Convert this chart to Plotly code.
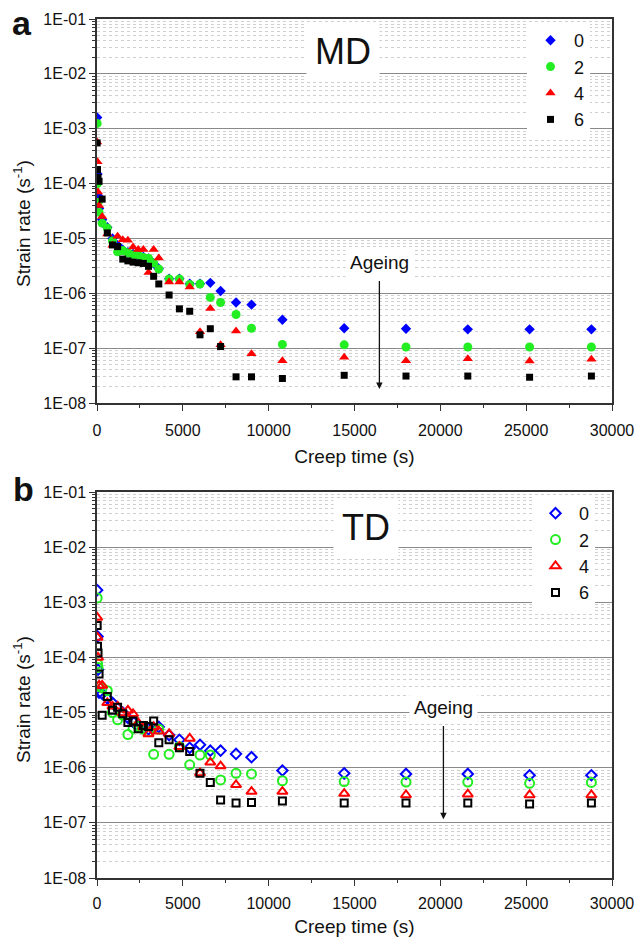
import plotly.graph_objects as go

# ---------------- data ----------------
times = [10, 30, 60, 120, 300, 600, 900, 1200, 1500, 1800, 2100, 2400, 2700, 3000,
         3300, 3600, 4200, 4800, 5400, 6000, 6600, 7200, 8100, 9000, 10800,
         14400, 18000, 21600, 25200, 28800]

series_names = ["0", "2", "4", "6"]
series_colors = ["#0000ff", "#22ee22", "#ff0000", "#000000"]

# MD (machine direction)
md_0 = [1.6e-3, 1.5e-4, 6e-5, 3.5e-5, 2.2e-5, 1.6e-5, 1.0e-5, 7.5e-6, 6.2e-6, 5.6e-6,
        5.2e-6, 5.0e-6, 4.6e-6, 4.3e-6, 3.5e-6, 2.8e-6, 1.85e-6, 1.85e-6, 1.5e-6, 1.5e-6,
        1.55e-6, 1.1e-6, 6.8e-7, 6.2e-7, 3.3e-7, 2.3e-7, 2.25e-7, 2.2e-7, 2.2e-7, 2.2e-7]
md_2 = [1.25e-3, 1.0e-4, 4.5e-5, 3.0e-5, 1.9e-5, 1.55e-5, 9e-6, 5.7e-6, 6.0e-6, 5.5e-6,
        5.0e-6, 5.0e-6, 4.5e-6, 4.35e-6, 3.55e-6, 2.77e-6, 1.82e-6, 1.82e-6, 1.45e-6, 1.48e-6,
        8.4e-7, 6.8e-7, 4.1e-7, 2.3e-7, 1.17e-7, 1.15e-7, 1.05e-7, 1.05e-7, 1.05e-7, 1.05e-7]
md_4 = [5.7e-4, 2.5e-4, 7e-5, 4e-5, 2.5e-5, 1.2e-5, 7.5e-6, 1.1e-5, 9.5e-6, 9.3e-6,
        7.0e-6, 6.3e-6, 6.3e-6, 2.4e-6, 6.3e-6, 4.4e-6, 1.6e-6, 1.6e-6, 1.3e-6, 2.0e-7,
        5.3e-7, 1.15e-7, 2.05e-7, 7.9e-8, 5.9e-8, 6.8e-8, 5.9e-8, 6.4e-8, 5.8e-8, 6.3e-8]
md_6 = [5.5e-4, 1.8e-4, 1.3e-4, 1.1e-4, 5.2e-5, 1.26e-5, 7.6e-6, 7.1e-6, 4.2e-6, 3.9e-6,
        3.7e-6, 3.6e-6, 3.5e-6, 3.1e-6, 2.04e-6, 1.48e-6, 9.3e-7, 5.2e-7, 4.7e-7, 1.75e-7,
        2.26e-7, 1.07e-7, 3.0e-8, 3.0e-8, 2.8e-8, 3.2e-8, 3.1e-8, 3.1e-8, 2.95e-8, 3.1e-8]

# TD (transverse direction)
td_0 = [1.66e-3, 2.4e-4, 6e-5, 2.3e-5, 2.2e-5, 1.8e-5, 1.5e-5, 1.2e-5, 1.0e-5, 8e-6,
        6.8e-6, 5.6e-6, 5.2e-6, 5.0e-6, 5.3e-6, 5.5e-6, 3.9e-6, 3.2e-6, 2.3e-6, 2.6e-6,
        2.04e-6, 2.04e-6, 1.78e-6, 1.55e-6, 8.9e-7, 7.9e-7, 7.7e-7, 7.7e-7, 7.3e-7, 7.3e-7]
td_2 = [1.2e-3, 7.7e-5, 6.6e-5, 3.0e-5, 2.8e-5, 2.5e-5, 1.0e-5, 7.4e-6, 9e-6, 4.0e-6,
        5.2e-6, 5.6e-6, 5.0e-6, 4.5e-6, 1.75e-6, 5.0e-6, 1.75e-6, 2.4e-6, 1.13e-6, 1.7e-6,
        1.7e-6, 6.0e-7, 7.9e-7, 7.7e-7, 5.8e-7, 5.6e-7, 5.5e-7, 5.5e-7, 5.2e-7, 5.4e-7]
td_4 = [5.3e-4, 2.3e-4, 1.0e-4, 3.1e-5, 3.1e-5, 1.5e-5, 1.3e-5, 1.3e-5, 9.8e-6, 1.1e-5,
        9.5e-6, 6.5e-6, 5.5e-6, 4.1e-6, 5.5e-6, 4.6e-6, 4.1e-6, 2.4e-6, 3.4e-6, 8e-7,
        1.25e-6, 1.07e-6, 4.9e-7, 3.7e-7, 3.7e-7, 3.4e-7, 3.2e-7, 3.3e-7, 3.2e-7, 3.2e-7]
td_6 = [3.8e-4, 1.6e-4, 1.2e-4, 5e-5, 8.9e-6, 1.95e-5, 1.1e-5, 1.25e-5, 9.5e-6, 6.6e-6,
        7.0e-6, 5.1e-6, 5.8e-6, 5.6e-6, 7.0e-6, 2.85e-6, 3.2e-6, 2.3e-6, 1.97e-6, 7.9e-7,
        5.4e-7, 2.6e-7, 2.3e-7, 2.35e-7, 2.5e-7, 2.3e-7, 2.3e-7, 2.3e-7, 2.2e-7, 2.3e-7]

y_tickvals = [1e-1, 1e-2, 1e-3, 1e-4, 1e-5, 1e-6, 1e-7, 1e-8]
y_ticktext = ["1E-01", "1E-02", "1E-03", "1E-04", "1E-05", "1E-06", "1E-07", "1E-08"]
x_tickvals = [0, 5000, 10000, 15000, 20000, 25000, 30000]
x_ticktext = ["0", "5000", "10000", "15000", "20000", "25000", "30000"]

# ---------------- figure ----------------
FONT = "Arial, Liberation Sans, sans-serif"
fig = go.Figure()

md_series = [md_0, md_2, md_4, md_6]
td_series = [td_0, td_2, td_4, td_6]
filled_symbols = ["diamond", "circle", "triangle-up", "square"]
open_symbols = ["diamond-open", "circle-open", "triangle-up-open", "square-open"]
sizes = [8, 9, 9, 7]

for name, col, sym, sz, vals in zip(series_names, series_colors, filled_symbols, sizes, md_series):
    fig.add_trace(go.Scatter(x=times, y=vals, mode="markers", name=name,
                             marker=dict(symbol=sym, color=col, size=sz, line=dict(width=0)),
                             xaxis="x", yaxis="y", legend="legend"))

for name, col, sym, sz, vals in zip(series_names, series_colors, open_symbols, sizes, td_series):
    fig.add_trace(go.Scatter(x=times, y=vals, mode="markers", name=name,
                             marker=dict(symbol=sym, color=col, size=sz, line=dict(width=2, color=col)),
                             xaxis="x2", yaxis="y2", legend="legend2"))

minor_y = [k * 10.0 ** e for e in range(-8, -1) for k in range(2, 10)]

def yax(domain, anchor):
    return dict(type="log", range=[-8, -1], domain=domain, anchor=anchor, automargin=False,
                tickmode="array", tickvals=y_tickvals, ticktext=y_ticktext,
                ticks="outside", ticklen=6, tickwidth=1, tickcolor="#333",
                showline=True, linecolor="#333", linewidth=1.5, mirror=True,
                showgrid=True, gridcolor="#8a8a8a", gridwidth=1,
                minor=dict(tickmode="array", tickvals=minor_y, ticks="outside", ticklen=3,
                           tickcolor="#333", showgrid=True, gridcolor="#cfcfcf",
                           griddash="dot", gridwidth=1),
                tickfont=dict(size=16, color="#111", family=FONT),
                zeroline=False)

def xax(anchor, lstand, tstand):
    return dict(range=[0, 30000], anchor=anchor, domain=[0, 1], automargin=False,
                tickmode="array", tickvals=x_tickvals, ticktext=x_ticktext,
                ticks="outside", ticklen=6, tickwidth=1, tickcolor="#333",
                showline=True, linecolor="#333", linewidth=1.5, mirror=True,
                showgrid=False, zeroline=False, ticklabelstandoff=lstand,
                minor=dict(dtick=2500, ticks="outside", ticklen=3, tickcolor="#333", showgrid=False),
                tickfont=dict(size=16, color="#111", family=FONT),
                title=dict(text="Creep time (s)", font=dict(size=19, color="#111", family=FONT),
                           standoff=tstand))

H_PLOT = 859.0
top_dom = [(878 - 403) / H_PLOT, 1.0]
bot_dom = [0.0, (878 - 492) / H_PLOT]

def px_x(px):
    return (px - 97) / 515.0

def px_y(py):
    return (878 - py) / H_PLOT

txt_font = dict(size=19, color="#111", family=FONT)
annotations = [
    dict(text="<b>a</b>", xref="paper", yref="paper", x=px_x(22), y=px_y(23),
         xanchor="center", yanchor="middle", showarrow=False, font=dict(size=34, color="#111", family=FONT)),
    dict(text="<b>b</b>", xref="paper", yref="paper", x=px_x(23), y=px_y(489),
         xanchor="center", yanchor="middle", showarrow=False, font=dict(size=34, color="#111", family=FONT)),
    dict(text="Strain rate (s<sup>-1</sup>)", xref="paper", yref="paper", x=px_x(22), y=px_y(224),
         xanchor="center", yanchor="middle", textangle=-90, showarrow=False, font=txt_font),
    dict(text="Strain rate (s<sup>-1</sup>)", xref="paper", yref="paper", x=px_x(22), y=px_y(700),
         xanchor="center", yanchor="middle", textangle=-90, showarrow=False, font=txt_font),
    dict(text="MD", xref="x", yref="y", x=14330, y=-1.60, showarrow=False,
         font=dict(size=36, color="#111", family=FONT), bgcolor="white", borderpad=8),
    dict(text="TD", xref="x2", yref="y2", x=15670, y=-1.635, showarrow=False,
         font=dict(size=36, color="#111", family=FONT), bgcolor="white", borderpad=8),
    dict(text="Ageing", xref="x", yref="y", x=16450, y=-7.745, ax=16450, ay=-5.43,
         axref="x", ayref="y", showarrow=True, arrowhead=2, arrowsize=1, arrowwidth=1.3,
         arrowcolor="#111", standoff=0, startstandoff=4,
         font=txt_font, bgcolor="white", borderpad=4),
    dict(text="Ageing", xref="x2", yref="y2", x=20180, y=-6.935, ax=20180, ay=-4.90,
         axref="x2", ayref="y2", showarrow=True, arrowhead=2, arrowsize=1, arrowwidth=1.3,
         arrowcolor="#111", standoff=0, startstandoff=4,
         font=txt_font, bgcolor="white", borderpad=4),
]

legend_common = dict(xanchor="left", yanchor="top", bgcolor="white", borderwidth=0,
                     font=dict(size=18, color="#111", family=FONT), itemwidth=37,
                     tracegroupgap=0)

fig.update_layout(
    width=636, height=937,
    margin=dict(l=97, r=24, t=19, b=59, autoexpand=False),
    paper_bgcolor="white", plot_bgcolor="white",
    font=dict(family=FONT, color="#111"),
    xaxis=xax("y", 6, 12), yaxis=yax(top_dom, "x"),
    xaxis2=xax("y2", 4, 14), yaxis2=yax(bot_dom, "x2"),
    legend=dict(x=px_x(527), y=px_y(22), **legend_common),
    legend2=dict(x=px_x(532), y=px_y(495), **legend_common),
    annotations=annotations,
    showlegend=True,
)

fig.write_html("out.html")
